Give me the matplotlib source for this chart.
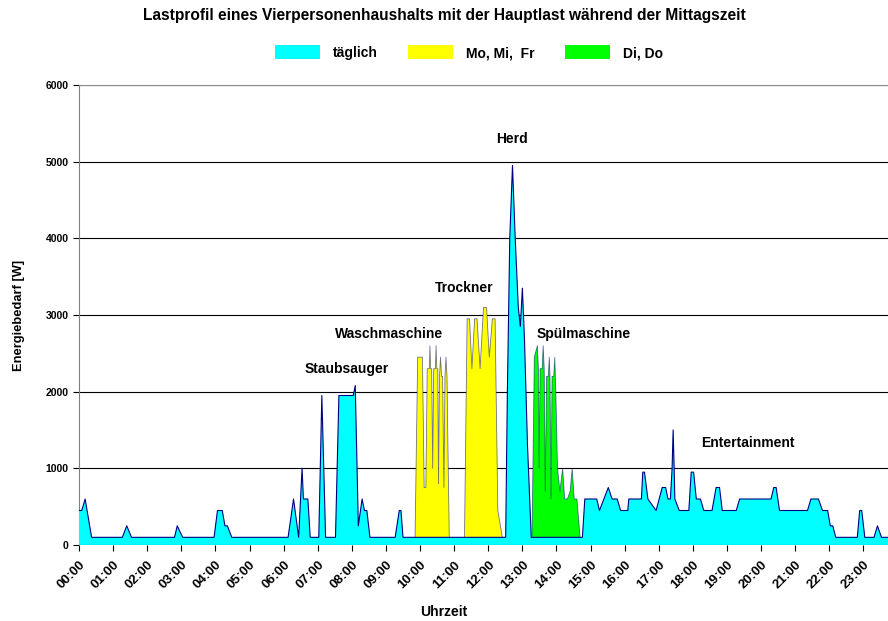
import matplotlib
matplotlib.use("Agg")
import matplotlib.pyplot as plt
from matplotlib.patches import Patch

plt.rcParams["font.family"] = ["Liberation Sans", "DejaVu Sans"]
plt.rcParams["font.weight"] = "bold"

# Uhrzeit in Stunden, Leistung in W (Eckpunkte des Profils)
t_daily = [0, 0.08, 0.18, 0.37, 1.27, 1.40, 1.54, 2.80, 2.88, 3.04,
           3.96, 4.06, 4.20, 4.28, 4.35, 4.48, 6.13, 6.29, 6.44, 6.54,
           6.58, 6.71, 6.78, 7.03, 7.12, 7.23, 7.52, 7.62, 8.04, 8.10,
           8.19, 8.30, 8.37, 8.44, 8.53, 9.27, 9.39, 9.44, 9.50, 12.51,
           12.56, 12.63, 12.71, 12.79, 12.88, 12.94, 13.00, 13.06, 13.15, 13.26,
           14.76, 14.83, 15.18, 15.26, 15.52, 15.63, 15.78, 15.88, 16.09, 16.12,
           16.49, 16.53, 16.58, 16.68, 16.92, 17.10, 17.20, 17.27, 17.34, 17.39,
           17.42, 17.45, 17.47, 17.60, 17.88, 17.95, 18.02, 18.10, 18.22, 18.32,
           18.56, 18.68, 18.78, 18.86, 19.27, 19.37, 20.29, 20.37, 20.44, 20.54,
           21.36, 21.46, 21.68, 21.80, 21.95, 22.03, 22.10, 22.19, 22.82, 22.89,
           22.95, 23.04, 23.31, 23.41, 23.53, 23.75]
w_daily = [450, 450, 600, 100, 100, 250, 100, 100, 250, 100,
           100, 450, 450, 250, 250, 100, 100, 600, 100, 1000,
           600, 600, 100, 100, 1950, 100, 100, 1950, 1950, 2080,
           250, 600, 450, 450, 100, 100, 450, 450, 100, 100,
           2000, 4000, 4950, 4000, 3100, 2850, 3350, 2700, 1300, 100,
           100, 600, 600, 450, 750, 600, 600, 450, 450, 600,
           600, 950, 950, 600, 450, 750, 750, 600, 600, 1000,
           1500, 1000, 600, 450, 450, 950, 950, 600, 600, 450,
           450, 750, 750, 450, 450, 600, 600, 750, 750, 450,
           450, 600, 600, 450, 450, 250, 250, 100, 100, 450,
           450, 100, 100, 250, 100, 100]

# Mo, Mi, Fr: Waschmaschine und Trockner
t_mmf = [9.85, 9.93, 10.07, 10.12, 10.17, 10.21, 10.27, 10.29, 10.31, 10.34,
         10.37, 10.40, 10.45, 10.47, 10.49, 10.52, 10.54, 10.57, 10.60, 10.63,
         10.66, 10.70, 10.73, 10.76, 10.79, 10.81, 10.86, 11.30, 11.38, 11.45,
         11.52, 11.60, 11.67, 11.76, 11.86, 11.95, 12.03, 12.12, 12.20, 12.28,
         12.45]
w_mmf = [0, 2450, 2450, 750, 750, 2300, 2300, 2600, 2300, 2300,
         1000, 2300, 2300, 2600, 2300, 2300, 800, 2200, 2450, 2200,
         2200, 750, 2200, 2450, 2200, 1500, 0, 0, 2950, 2950,
         2300, 2950, 2950, 2300, 3100, 3100, 2450, 2950, 2950, 450,
         0]

# Di, Do: Spülmaschine
t_dido = [13.28, 13.35, 13.44, 13.47, 13.49, 13.52, 13.58, 13.61, 13.64, 13.67,
          13.71, 13.76, 13.79, 13.81, 13.84, 13.87, 13.92, 13.95, 13.98, 14.03,
          14.10, 14.18, 14.24, 14.32, 14.40, 14.46, 14.52, 14.60, 14.71]
w_dido = [0, 2450, 2600, 2300, 1000, 2300, 2300, 2600, 2300, 700,
          2200, 2200, 2450, 2200, 600, 2200, 2200, 2450, 2000, 1000,
          700, 1000, 600, 600, 700, 1000, 600, 600, 0]

hours = list(range(24))
hour_labels = [f"{h:02d}:00" for h in hours]
y_ticks = [0, 1000, 2000, 3000, 4000, 5000, 6000]

labels = [("Staubsauger", 7.85, 2300), ("Waschmaschine", 9.10, 2750),
          ("Trockner", 11.30, 3350), ("Herd", 12.70, 5300),
          ("Spülmaschine", 14.80, 2750), ("Entertainment", 19.62, 1330)]

C_DAILY, C_MMF, C_DIDO, C_EDGE = "#00FFFF", "#FFFF00", "#00FF00", "#000080"

fig = plt.figure(figsize=(8.88, 6.21), dpi=100)
ax = fig.add_axes([79 / 888, 1 - 545 / 621, 809 / 888, 460 / 621])

ax.fill_between(t_mmf, 0, w_mmf, facecolor=C_MMF, edgecolor="none", zorder=2)
ax.plot(t_mmf, w_mmf, color=C_EDGE, lw=0.6, alpha=0.55, zorder=2.1)
ax.fill_between(t_dido, 0, w_dido, facecolor=C_DIDO, edgecolor="none", zorder=2)
ax.plot(t_dido, w_dido, color=C_EDGE, lw=0.6, alpha=0.55, zorder=2.1)
ax.fill_between(t_daily, 0, w_daily, facecolor=C_DAILY, edgecolor="none", zorder=3)
ax.plot(t_daily, w_daily, color=C_EDGE, lw=0.8, zorder=3.1)

ax.set_xlim(0, 23.72)
ax.set_ylim(0, 6000)
ax.set_yticks(y_ticks)
ax.set_yticklabels([str(v) for v in y_ticks], fontsize=7.5, fontweight="bold")
ax.set_xticks(hours)
ax.set_xticklabels(hour_labels, rotation=45, ha="right", va="top",
                   rotation_mode="anchor", fontsize=9.5, fontweight="bold")
ax.tick_params(axis="both", direction="out", length=4, color="#000000", width=0.8)
ax.tick_params(axis="x", pad=6)
ax.grid(axis="y", color="#000000", lw=0.8, zorder=1)
ax.set_axisbelow(True)
for s in ["right", "bottom"]:
    ax.spines[s].set_visible(False)
ax.spines["left"].set_color("#808080")
ax.spines["top"].set_color("#909090")
ax.axhline(0, color="#000000", lw=0.8, zorder=4)

for txt, x, y in labels:
    ax.text(x, y, txt, ha="center", va="center", fontsize=10, fontweight="bold", zorder=5)

ax.set_ylabel("Energiebedarf [W]", fontsize=9.3, fontweight="bold", labelpad=15)
fig.text(0.5, 1 - 612 / 621, "Uhrzeit", ha="center", va="center",
         fontsize=10, fontweight="bold")

fig.suptitle("Lastprofil eines Vierpersonenhaushalts mit der Hauptlast während der Mittagszeit",
             x=0.5, y=0.987, fontsize=11.2, fontweight="bold")

handles = [Patch(facecolor=C_DAILY, edgecolor="none", label="täglich"),
           Patch(facecolor=C_MMF, edgecolor="none", label="Mo, Mi,  Fr"),
           Patch(facecolor=C_DIDO, edgecolor="none", label="Di, Do")]
fig.legend(handles=handles, loc="center", bbox_to_anchor=(0.528, 0.915), ncol=3,
           frameon=False, fontsize=10, handlelength=3.25, handleheight=1.15,
           handletextpad=0.95, columnspacing=2.15)

fig.savefig("out.png", dpi=100)
